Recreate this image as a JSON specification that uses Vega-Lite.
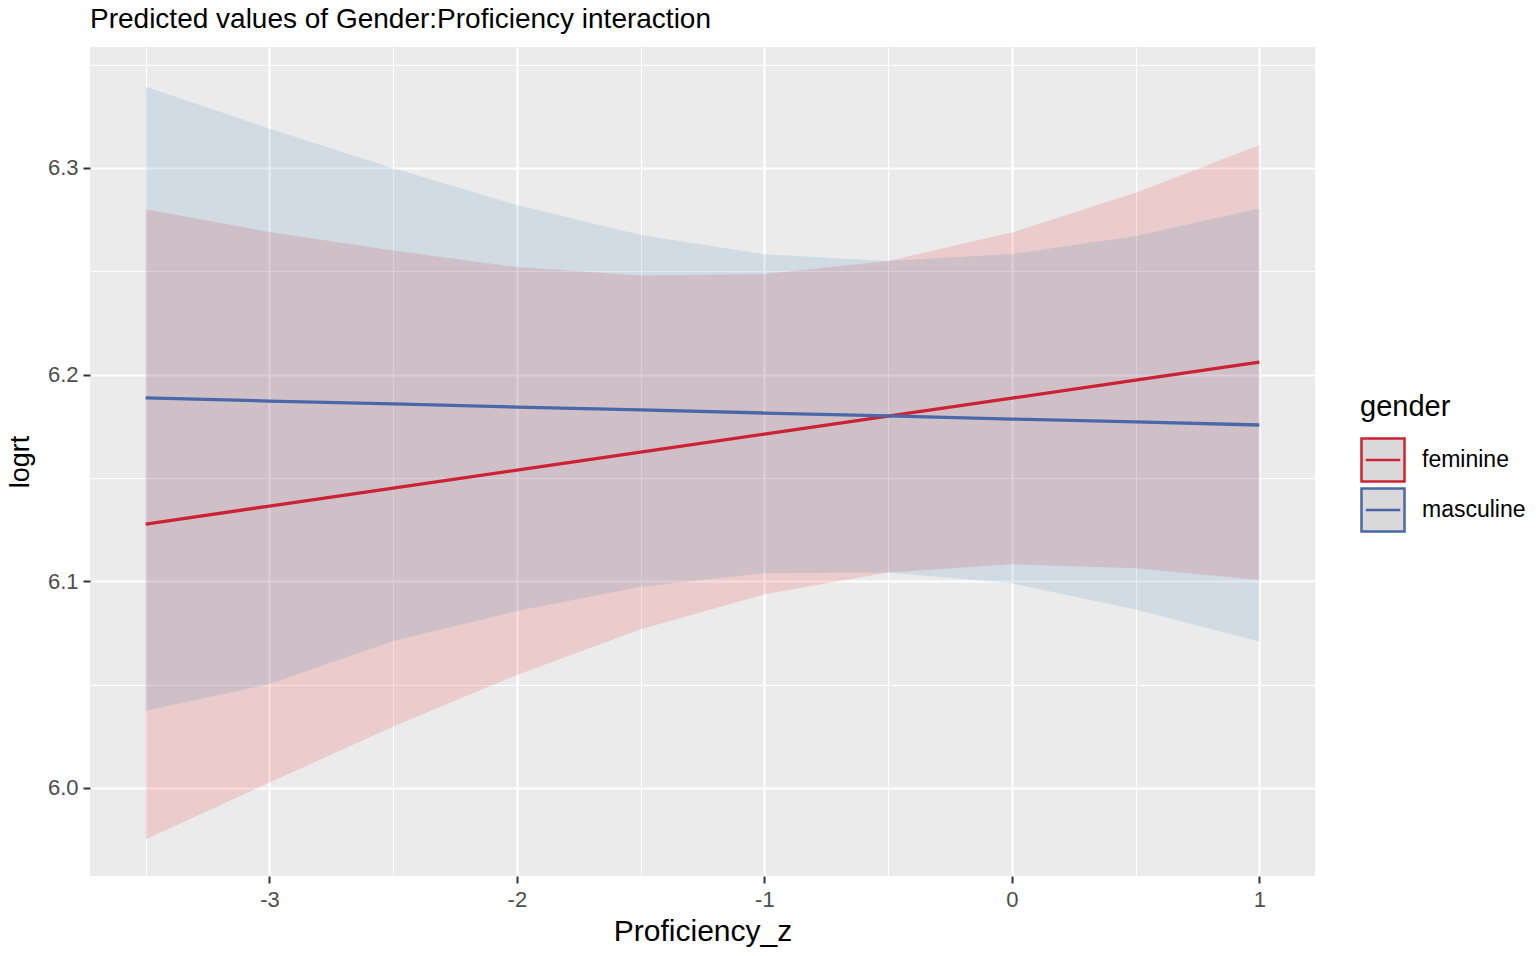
{
  "$schema": "https://vega.github.io/schema/vega-lite/v6.json",
  "width": 1225,
  "height": 829,
  "autosize": {"type": "none"},
  "padding": {"left": 90, "top": 47, "right": 221, "bottom": 80},
  "background": "white",
  "title": {"text": "Predicted values of Gender:Proficiency interaction", "anchor": "start", "frame": "group", "fontSize": 28, "font": "Liberation Sans", "fontWeight": "normal", "color": "#000000", "offset": 13},
  "config": {"view": {"fill": "#EBEBEB", "stroke": null}, "font": "Liberation Sans"},
  "data": {"values": [
    {"x": -3.5, "gender": "feminine", "fit": 6.1277, "lo": 5.9752, "hi": 6.2800},
    {"x": -3.0, "gender": "feminine", "fit": 6.1364, "lo": 6.0026, "hi": 6.2690},
    {"x": -2.5, "gender": "feminine", "fit": 6.1451, "lo": 6.0297, "hi": 6.2600},
    {"x": -2.0, "gender": "feminine", "fit": 6.1538, "lo": 6.0547, "hi": 6.2520},
    {"x": -1.5, "gender": "feminine", "fit": 6.1625, "lo": 6.0768, "hi": 6.2480},
    {"x": -1.0, "gender": "feminine", "fit": 6.1712, "lo": 6.0937, "hi": 6.2487},
    {"x": -0.5, "gender": "feminine", "fit": 6.1799, "lo": 6.1043, "hi": 6.2550},
    {"x": 0.0, "gender": "feminine", "fit": 6.1886, "lo": 6.1082, "hi": 6.2687},
    {"x": 0.5, "gender": "feminine", "fit": 6.1973, "lo": 6.1063, "hi": 6.2880},
    {"x": 1.0, "gender": "feminine", "fit": 6.2060, "lo": 6.1006, "hi": 6.3110},
    {"x": -3.5, "gender": "masculine", "fit": 6.1887, "lo": 6.0374, "hi": 6.3393},
    {"x": -3.0, "gender": "masculine", "fit": 6.1872, "lo": 6.0503, "hi": 6.3190},
    {"x": -2.5, "gender": "masculine", "fit": 6.1858, "lo": 6.0711, "hi": 6.2998},
    {"x": -2.0, "gender": "masculine", "fit": 6.1843, "lo": 6.0856, "hi": 6.2820},
    {"x": -1.5, "gender": "masculine", "fit": 6.1829, "lo": 6.0974, "hi": 6.2675},
    {"x": -1.0, "gender": "masculine", "fit": 6.1814, "lo": 6.1039, "hi": 6.2582},
    {"x": -0.5, "gender": "masculine", "fit": 6.1800, "lo": 6.1043, "hi": 6.2550},
    {"x": 0.0, "gender": "masculine", "fit": 6.1785, "lo": 6.0990, "hi": 6.2583},
    {"x": 0.5, "gender": "masculine", "fit": 6.1771, "lo": 6.0864, "hi": 6.2670},
    {"x": 1.0, "gender": "masculine", "fit": 6.1756, "lo": 6.0708, "hi": 6.2804}
  ]},
  "layer": [
    {
      "transform": [{"filter": "datum.gender === 'feminine'"}],
      "mark": {"type": "area", "opacity": 0.15, "fill": "#E41A1C"},
      "encoding": {
        "x": {"field": "x", "type": "quantitative", "scale": {"domain": [-3.725, 1.225], "nice": false, "zero": false},
          "axis": {"title": "Proficiency_z", "values": [-3.5, -3, -2.5, -2, -1.5, -1, -0.5, 0, 0.5, 1],
            "labelExpr": "datum.value % 1 === 0 ? '' + datum.value : ''",
            "domain": false, "gridColor": "#FFFFFF",
            "gridWidth": {"condition": {"test": "datum.value % 1 === 0", "value": 2.2}, "value": 1.1},
            "tickOpacity": {"condition": {"test": "datum.value % 1 === 0", "value": 1}, "value": 0},
            "tickColor": "#333333", "tickWidth": 2, "tickSize": 7,
            "labelFontSize": 22, "labelColor": "#4D4D4D", "labelPadding": 6, "labelOverlap": false, "labelFlush": false, "labelBound": false,
            "titleFontSize": 30, "titleFontWeight": "normal", "titleColor": "#000000", "titlePadding": 6}},
        "y": {"field": "lo", "type": "quantitative", "stack": null, "scale": {"domain": [5.9574, 6.3585], "nice": false, "zero": false},
          "axis": {"title": "logrt", "values": [6.0, 6.05, 6.1, 6.15, 6.2, 6.25, 6.3, 6.35],
            "labelExpr": "abs(datum.value*10 - round(datum.value*10)) < 0.001 ? format(datum.value, '.1f') : ''",
            "domain": false, "gridColor": "#FFFFFF",
            "gridWidth": {"condition": {"test": "abs(datum.value*10 - round(datum.value*10)) < 0.001", "value": 2.2}, "value": 1.1},
            "tickOpacity": {"condition": {"test": "abs(datum.value*10 - round(datum.value*10)) < 0.001", "value": 1}, "value": 0},
            "tickColor": "#333333", "tickWidth": 2, "tickSize": 7,
            "labelFontSize": 22, "labelColor": "#4D4D4D", "labelPadding": 5, "labelOverlap": false, "labelFlush": false, "labelBound": false,
            "titleFontSize": 27, "titleFontWeight": "normal", "titleColor": "#000000", "titlePadding": 13}},
        "y2": {"field": "hi"}
      }
    },
    {
      "transform": [{"filter": "datum.gender === 'masculine'"}],
      "mark": {"type": "area", "opacity": 0.15, "fill": "#377EB8"},
      "encoding": {
        "x": {"field": "x", "type": "quantitative"},
        "y": {"field": "lo", "type": "quantitative", "stack": null},
        "y2": {"field": "hi"}
      }
    },
    {
      "mark": {"type": "line", "strokeWidth": 3.3},
      "encoding": {
        "x": {"field": "x", "type": "quantitative"},
        "y": {"field": "fit", "type": "quantitative"},
        "stroke": {"field": "gender", "type": "nominal", "scale": {"domain": ["feminine", "masculine"], "range": ["#CB2234", "#4A68A7"]},
          "legend": {"orient": "none", "legendX": 1270, "legendY": 346, "title": "gender",
            "titleFontSize": 29, "titleFontWeight": "normal", "titleColor": "#000000", "titlePadding": 15,
            "labelFontSize": 23, "labelColor": "#000000", "labelOffset": 16, "rowPadding": -10,
            "symbolType": "M-1,-1H1V1H-1Z M-0.8,0H0.8", "symbolSize": 1849, "symbolStrokeWidth": 2.5, "symbolFillColor": "#D9D9D9",
            "encode": {"symbols": {"update": {"fill": {"value": "#D9D9D9"}, "opacity": {"value": 1}, "strokeWidth": {"value": 2.5}}}}}}
      }
    }
  ]
}
